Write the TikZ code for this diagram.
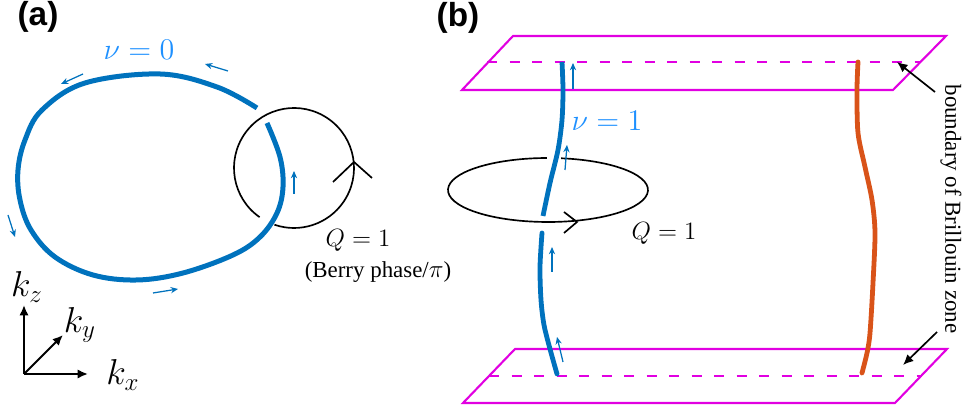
\documentclass[tikz,border=0pt]{standalone}
\usepackage{fontspec}
\newfontfamily\panelfont{Liberation Sans}
\newfontfamily\notefont{Liberation Serif}
\usetikzlibrary{arrows.meta, calc}
\definecolor{lineBlue}{RGB}{0,114,189}
\definecolor{textBlue}{RGB}{30,144,255}
\definecolor{lineOrange}{RGB}{217,83,25}
\definecolor{zoneMagenta}{RGB}{225,0,225}

\begin{document}
\begin{tikzpicture}[x=0.48pt, y=-0.48pt,
    panel/.style={font=\panelfont\bfseries\fontsize{16}{18}\selectfont},
    flow/.style={-{Stealth[length=3.5pt, width=3pt]}, line width=0.6pt, color=lineBlue},
    loopline/.style={line width=0.8pt},
    zone/.style={line width=1pt, color=zoneMagenta},
    zonedash/.style={zone, line width=1.3pt, dash pattern=on 4.8pt off 6pt},
    axis/.style={-{Latex[length=5pt, width=4.5pt]}, line width=1pt},
    pointer/.style={-{Latex[length=5pt, width=4.5pt]}, line width=0.8pt},
    note/.style={font=\notefont\fontsize{11}{13}\selectfont}]
  \useasboundingbox (0,0) rectangle (963,409);

  % (a) nodal loop
  \node[panel] (lbla) at (38,17) {(a)};
  \draw[lineBlue, line width=2.4pt] plot[smooth, tension=0.6] coordinates {
    (267,123) (280,157) (283,187) (277,213) (260,237) (233,255) (183,273)
    (137,280) (93,275) (55,257) (31,230) (20,200) (18,170) (25,140)
    (42,110) (85,83) (160,74) (217,87) (257,108)};
  \draw[loopline] (294,168) ++(125:60) arc[start angle=125, end angle=469, radius=60];
  \draw[loopline] (333,182) -- (354,162) -- (372,178);
  \draw[flow] (228,71) -- (205,64);
  \draw[flow] (83,74) -- (61,84);
  \draw[flow] (8,215) -- (15,237);
  \draw[flow] (153,293) -- (178,289);
  \draw[flow] (294,194) -- (294,171);
  \node[text=textBlue, font=\Large] (nua) at (139,50) {$\nu=0$};
  \node[font=\large] (qa) at (358,240) {$Q=1$};
  \node[note] (berry) at (378,272) {(Berry phase/{\large$\pi$})};

  % axes
  \coordinate (orig) at (24,374);
  \coordinate (kzend) at (24,305);
  \coordinate (kxend) at (88,374);
  \coordinate (kyend) at (63,335);
  \draw[axis] (orig) -- (kzend);
  \draw[axis] (orig) -- (kxend);
  \draw[axis] (orig) -- (kyend);
  \node[font=\LARGE] (kz) at (27,287) {$k_z$};
  \node[font=\LARGE] (ky) at (80,325) {$k_y$};
  \node[font=\LARGE] (kx) at (123,375) {$k_x$};

  % (b) nodal line through the zone
  \node[panel] (lblb) at (458,18) {(b)};
  \draw[zone] (513,36) -- (946,36) -- (893,90) -- (462,90) -- cycle;
  \draw[zonedash] (487,62) -- (920,62);
  \draw[zone] (515,349) -- (947,349) -- (895,403) -- (463,403) -- cycle;
  \draw[zonedash] (489,376) -- (922,376);
  \draw[lineBlue, line width=2.3pt] plot[smooth] coordinates {
    (562,62) (563,90) (562,120) (558,150) (550,183) (543,216)};
  \draw[lineBlue, line width=2.3pt, line cap=round] plot[smooth] coordinates {
    (542,233) (540,267) (541,300) (544,325) (550,349) (557,374)};
  \draw[lineOrange, line width=2.3pt, line cap=round] plot[smooth] coordinates {
    (858,62) (857,90) (858,133) (865,167) (872,200) (875,233) (873,283)
    (870,333) (867,353) (862,373)};
  \draw[loopline] (548,190) ++(277.5:100 and 32)
    arc[start angle=277.5, end angle=629.4, x radius=100, y radius=32];
  \draw[loopline] (564,212) -- (577,222) -- (564,233);
  \draw[flow] (573,89) -- (573,63);
  \draw[flow] (565,170) -- (567,145);
  \draw[flow] (552,272) -- (552,247);
  \draw[flow] (563,362) -- (557,337);
  \node[text=textBlue, font=\Large] (nub) at (607,121) {$\nu=1$};
  \node[font=\large] (qb) at (664,233) {$Q=1$};

  % zone boundary label
  \node[note, rotate=-90] (bz) at (951,209) {boundary of Brillouin zone};
  \coordinate (topfrom) at (935,92);
  \coordinate (topto) at (897,62);
  \coordinate (botfrom) at (937,332);
  \coordinate (botto) at (903,365);
  \draw[pointer] (topfrom) -- (topto);
  \draw[pointer] (botfrom) -- (botto);
\end{tikzpicture}
\end{document}
